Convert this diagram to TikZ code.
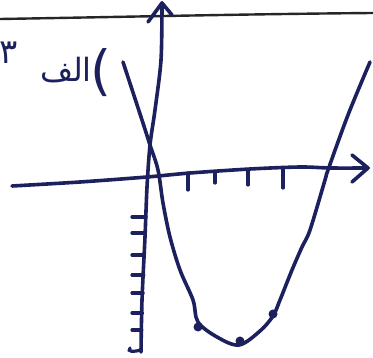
\documentclass[tikz,border=0pt]{standalone}
\usepackage{fontspec}
\newfontfamily\arabicfont[Script=Arabic]{DejaVu Sans}
\TeXXeTstate=1
\definecolor{ink}{RGB}{28,32,92}
\definecolor{rule}{RGB}{38,38,42}
\begin{document}
\begin{tikzpicture}[x=1pt,y=-1pt,
  inkline/.style={draw=ink,line width=3.6pt,line cap=round,line join=round},
  ruleline/.style={draw=rule,line width=2.4pt},
  tickmark/.style={draw=ink,line width=3.2pt,line cap=round},
  inkdot/.style={circle,fill=ink,inner sep=0pt,minimum size=9pt},
  label/.style={text=ink,inner sep=0pt}]
\useasboundingbox (0,0) rectangle (373,358);
\fill[white] (0,0) rectangle (373,358);
% ruled line at top
\coordinate (rl) at (0,19);
\coordinate (rr) at (373,13);
\draw[ruleline] (rl) .. controls (120,17) and (250,14) .. (rr);
% x-axis
\coordinate (xs) at (12,186);
\coordinate (xtip) at (368,168);
\coordinate (xa1) at (352,155);
\coordinate (xa2) at (352,182);
\draw[inkline] plot[smooth,tension=0.5] coordinates {(12,186) (80,182) (147,177) (190,173) (250,169) (300,167) (330,168) (368,168)};
\draw[inkline] (xa1) -- (xtip) -- (xa2);
% y-axis
\coordinate (ytip) at (162,3);
\coordinate (ya1) at (148,22);
\coordinate (ya2) at (172,15);
\draw[inkline] plot[smooth,tension=0.5] coordinates {(162,3) (161,60) (155,110) (150,145) (147,187) (145,237) (142,300) (141,352)};
\draw[inkline] (ya1) -- (ytip) -- (ya2);
% x ticks
\foreach \x/\a/\b in {188/173/190, 215/172/183, 248/170/185, 283/168/188}
  \draw[tickmark] (\x,\a) -- (\x,\b);
% y ticks
\foreach \y in {217,233,255,275,293,313,330}
  \draw[tickmark] (132,\y) -- ({147-6*(\y-187)/165},\y);
\draw[tickmark] (130,348) .. controls (127,352) and (133,352) .. (141,350);
% parabola
\draw[inkline] plot[smooth,tension=0.55] coordinates {(123,62) (142,120) (150,145) (158,170) (163,203) (170,237) (180,270) (193,300) (198,322) (217,337) (239,345) (260,331) (273,316) (280,300) (292,270) (302,247) (310,230) (325,180) (328,170) (348,115) (370,62)};
% marked points
\node[label,inkdot] (p1) at (198,327) {};
\node[label,inkdot] (p2) at (240,341) {};
\node[label,inkdot] (p3) at (273,314) {};
% labels
\node[label,anchor=base east] (lab) at (92,82) {\arabicfont\fontsize{32}{32}\selectfont\beginR الف\endR};
\node[label] (par) at (101,73) {\arabicfont\fontsize{54}{54}\selectfont )};
\node[label] (num) at (9,53) {\arabicfont\fontsize{34}{34}\selectfont ۳};
\end{tikzpicture}
\end{document}
